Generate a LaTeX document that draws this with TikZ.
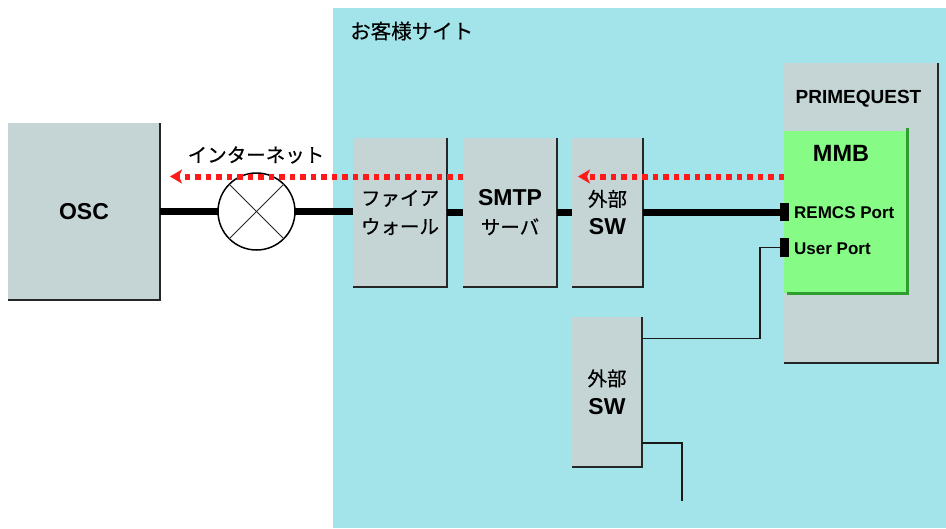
\documentclass[tikz,border=0pt]{standalone}
\usepackage{fontspec}
\setmainfont{Liberation Sans}
\newfontfamily\jp[FakeBold=0.5]{Noto Sans CJK JP}
\usetikzlibrary{arrows.meta}
\definecolor{site}{HTML}{A3E4EA}
\definecolor{boxgray}{HTML}{C5D5D5}
\definecolor{mmbgreen}{HTML}{86FC86}
\definecolor{mmbdark}{HTML}{2E9E2E}
\definecolor{dotred}{HTML}{FF1A1A}
\begin{document}
\begin{tikzpicture}[x=1pt,y=-1pt,
  devbox/.style={fill=boxgray, rectangle, inner sep=0pt, outer sep=0pt, anchor=north west, align=center,
    font=\fontsize{23}{28.5}\selectfont},
  shadowedge/.style={draw=black!85, line width=2.5pt},
  thickline/.style={line width=6.5pt, black},
  thinline/.style={line width=1.6pt, black!90},
  xline/.style={line width=1pt, black!85},
  redflow/.style={draw=dotred, line width=6pt, dash pattern=on 5.5pt off 5pt,
    -{Stealth[length=12pt,width=14pt,inset=3pt,fill=dotred]}},
  jplabel/.style={font=\jp\fontsize{19.5}{28}\selectfont, inner sep=0pt},
  boldlabel/.style={font=\bfseries\fontsize{19}{22}\selectfont, inner sep=0pt},
  portblock/.style={fill=black, rectangle, inner sep=0pt, outer sep=0pt, minimum width=9pt, minimum height=18pt}
]
\newcommand{\jpbox}[1]{{\jp\fontsize{19.5}{28.5}\selectfont #1}}
\useasboundingbox (0,0) rectangle (946,528);
\fill[white] (0,0) rectangle (946,528);
% customer site area
\fill[site] (333,8) rectangle (946,528);
\node[jplabel, font=\jp\fontsize{20.5}{28}\selectfont, anchor=west] (sitelabel) at (350,31) {お客様サイト};

% OSC
\node[devbox, minimum width=152pt, minimum height=177pt] (osc) at (8,123) {\bfseries OSC};
\draw[shadowedge] (osc.north east) -- (osc.south east) -- (osc.south west);

% internet
\node[circle, draw=black, line width=1.5pt, fill=white, minimum size=77pt, inner sep=0pt, outer sep=0pt] (inet) at (256.5,211.5) {};
\draw[xline] (inet.north west) -- (inet.south east);
\draw[xline] (inet.north east) -- (inet.south west);
\node[jplabel] (inetlabel) at (256,155) {インターネット};

% firewall, smtp, sw
\node[devbox, minimum width=94pt, minimum height=149pt] (fw) at (353,138) {\jpbox{ファイア}\\\jpbox{ウォール}};
\draw[shadowedge] (fw.north east) -- (fw.south east) -- (fw.south west);
\node[devbox, minimum width=94pt, minimum height=149pt] (smtp) at (463,138) {{\bfseries SMTP}\\\jpbox{サーバ}};
\draw[shadowedge] (smtp.north east) -- (smtp.south east) -- (smtp.south west);
\node[devbox, minimum width=71pt, minimum height=149pt] (sw1) at (572,138) {\jpbox{外部}\\{\bfseries SW}};
\draw[shadowedge] (sw1.north east) -- (sw1.south east) -- (sw1.south west);
\node[devbox, minimum width=70pt, minimum height=150pt] (sw2) at (572,317) {\jpbox{外部}\\{\bfseries SW}};
\draw[shadowedge] (sw2.north east) -- (sw2.south east) -- (sw2.south west);

% PRIMEQUEST
\node[devbox, minimum width=154pt, minimum height=300pt] (pq) at (784,63) {};
\draw[shadowedge] (pq.north east) -- (pq.south east) -- (pq.south west);
\node[boldlabel] (pqlabel) at (858.5,99) {PRIMEQUEST};
\node[fill=mmbgreen, rectangle, inner sep=0pt, outer sep=0pt, anchor=north west, minimum width=123pt, minimum height=162pt] (mmb) at (784,131) {};
\draw[draw=mmbdark, line width=3pt] ([yshift=3pt]mmb.north east) -- (mmb.south east) -- ([xshift=3pt]mmb.south west);
\node[boldlabel, font=\bfseries\fontsize{23.5}{26}\selectfont] (mmblabel) at (841,153) {MMB};

% ports
\node[portblock] (remcs) at (784.5,212) {};
\node[boldlabel, font=\bfseries\fontsize{17}{20}\selectfont, anchor=west] (remcslabel) at (794,212.5) {REMCS Port};
\node[portblock, minimum height=19pt] (user) at (784.5,247.5) {};
\node[boldlabel, font=\bfseries\fontsize{17}{20}\selectfont, anchor=west] (userlabel) at (794,248.5) {User Port};

% thick connections
\draw[thickline] (osc.east) -- (inet.west);
\draw[thickline] (inet.east) -- (inet.east -| fw.west);
\draw[thickline] (fw.east) -- (smtp.west);
\draw[thickline] (smtp.east) -- (sw1.west);
\draw[thickline] (sw1.east) -- (sw1.east -| remcs.west);

% thin connections
\coordinate (j1) at (760,338.5);
\draw[thinline] (user.west) -| (j1) -- (j1 -| sw2.east);
\coordinate (j2) at (682,443);
\coordinate (tail) at (682,501);
\draw[thinline] (j2 -| sw2.east) -- (j2) -- (tail);

% red flows
\coordinate (r1s) at (463,176.5);
\coordinate (r1e) at (170,176.5);
\draw[redflow] (r1s) -- (r1e);
\coordinate (r2s) at (784,176.5);
\coordinate (r2e) at (578,176.5);
\draw[redflow] (r2s) -- (r2e);
\end{tikzpicture}
\end{document}
